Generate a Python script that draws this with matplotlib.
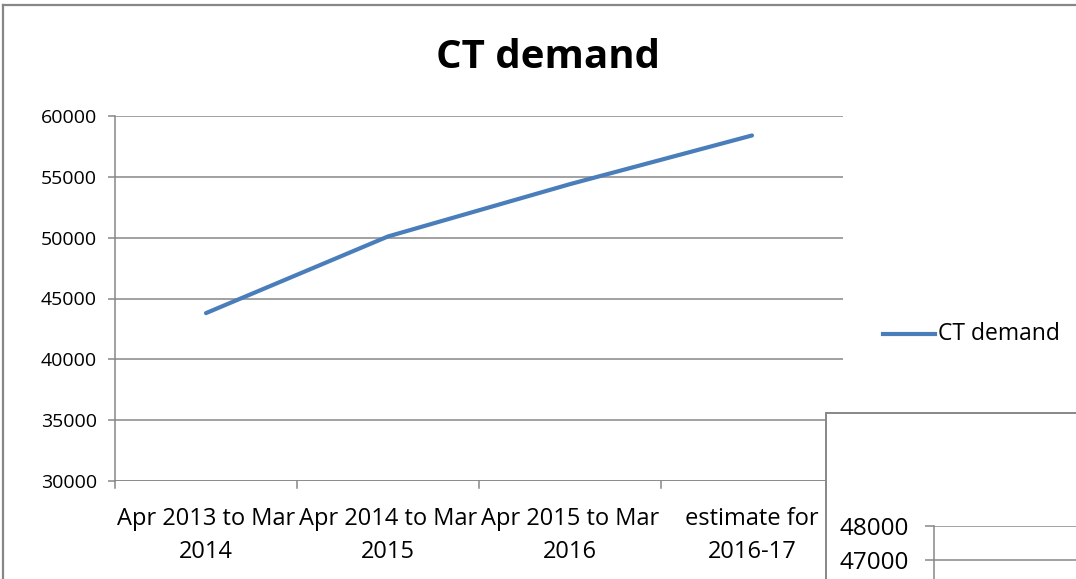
import matplotlib
matplotlib.use("Agg")
import matplotlib.pyplot as plt
from matplotlib.patches import Rectangle
from matplotlib.lines import Line2D

categories = ["Apr 2013 to Mar\n2014", "Apr 2014 to Mar\n2015", "Apr 2015 to Mar\n2016", "estimate for\n2016-17"]
ct_demand = [43800, 50100, 54400, 58400]
y_ticks = [30000, 35000, 40000, 45000, 50000, 55000, 60000]
second_ticks = [47000, 48000]

W, H = 1076, 579
fig = plt.figure(figsize=(W / 100, H / 100), dpi=100)
fig.patch.set_facecolor("white")

def px_axes(x0, y0, x1, y1, **kw):
    return fig.add_axes([x0 / W, (H - y1) / H, (x1 - x0) / W, (y1 - y0) / H], **kw)

grey = "#878787"
blue = "#4A7EBB"
FONT = "Open Sans"

# outer chart border (top and left)
fig.add_artist(Line2D([3 / W, 3 / W], [0, (H - 5) / H], color=grey, lw=1.6, transform=fig.transFigure))
fig.add_artist(Line2D([3 / W, 1], [(H - 5) / H, (H - 5) / H], color=grey, lw=1.6, transform=fig.transFigure))

ax = px_axes(115, 116, 843, 481)
x = list(range(len(categories)))
ax.plot(x, ct_demand, color=blue, lw=3.0, solid_capstyle="round", label="CT demand")
ax.set_xlim(-0.5, len(categories) - 0.5)
ax.set_ylim(30000, 60000)
ax.set_yticks(y_ticks)
ax.set_yticklabels([str(v) for v in y_ticks], fontfamily=FONT, fontsize=14)
ax.set_xticks(x)
ax.set_xticklabels(categories, fontfamily=FONT, fontsize=17, linespacing=1.5)
ax.tick_params(axis="x", length=0, pad=19)
ax.tick_params(axis="y", length=5, width=1.1, color=grey, pad=8)
# category boundary ticks
for b in [i + 0.5 for i in range(len(categories) - 1)] + [-0.5, len(categories) - 0.5]:
    ax.plot([b, b], [0, -0.02], transform=ax.get_xaxis_transform(), color=grey, lw=1.1, clip_on=False)
ax.grid(axis="y", color=grey, lw=1.1)
ax.set_axisbelow(True)
for s in ["top", "right"]:
    ax.spines[s].set_visible(False)
ax.spines["bottom"].set_visible(False)
ax.spines["left"].set_color(grey)
ax.spines["left"].set_linewidth(1.1)
ax.spines["left"].set_bounds(30000, 60000)
ax.axhline(30000, color=grey, lw=1.1, zorder=1)

fig.text(548 / W, (H - 58) / H, "CT demand", ha="center", va="center",
         fontfamily=FONT, fontweight="bold", fontsize=29)

# legend
fig.add_artist(Line2D([883 / W, 935 / W], [(H - 334) / H] * 2, color=blue, lw=3.0, transform=fig.transFigure))
fig.text(938 / W, (H - 334) / H, "CT demand", ha="left", va="center", fontfamily=FONT, fontsize=16.5)

# cropped second chart (white box overlapping)
box = Rectangle((826 / W, -0.05), 1.0, (H - 413) / H + 0.05, transform=fig.transFigure,
                facecolor="white", edgecolor=grey, lw=1.4, zorder=5)
fig.add_artist(box)

ax2 = px_axes(934, 526, 1100, 730)
ax2.set_zorder(6)
ax2.set_ylim(42000, 48000)
ax2.set_xlim(0, 1)
ax2.set_yticks(second_ticks)
ax2.set_yticklabels([str(v) for v in second_ticks], fontfamily=FONT, fontsize=17.5)
ax2.tick_params(axis="y", length=6.5, width=1.1, color=grey, pad=11.5)
ax2.set_xticks([])
ax2.grid(axis="y", color=grey, lw=1.1)
ax2.patch.set_alpha(0)
for s in ["top", "right", "bottom"]:
    ax2.spines[s].set_visible(False)
ax2.spines["left"].set_color(grey)
ax2.spines["left"].set_linewidth(1.1)

fig.savefig("out.png", dpi=100, facecolor="white")
